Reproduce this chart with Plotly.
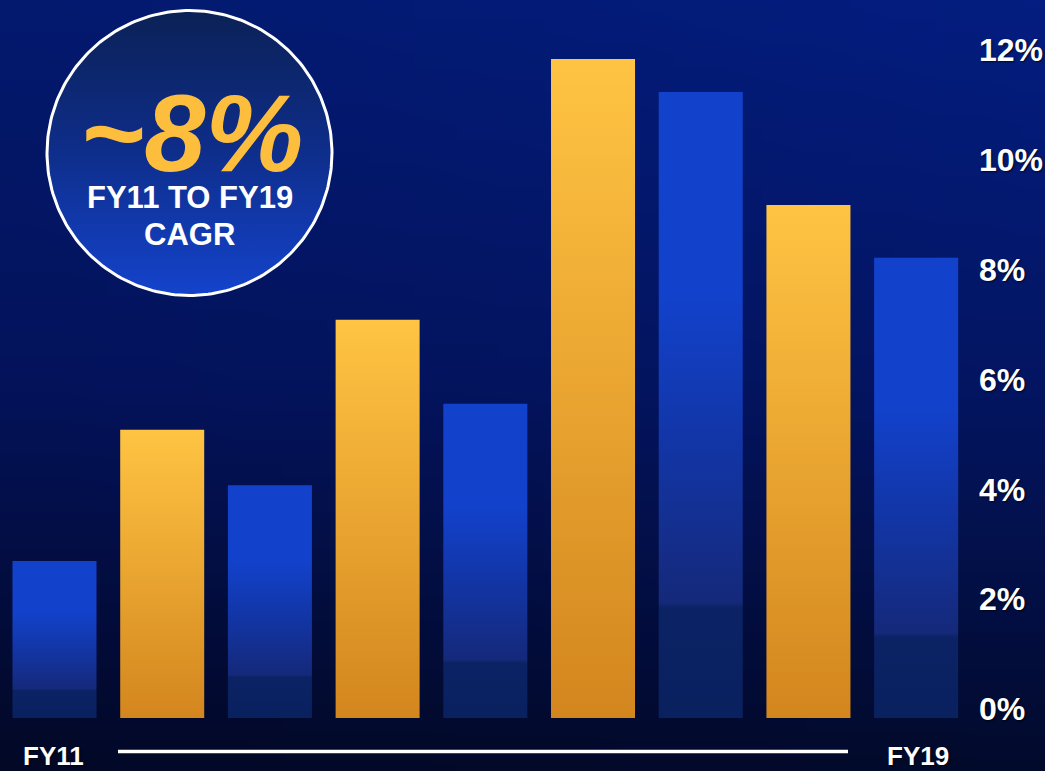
import base64
import math
import struct
import zlib

import plotly.graph_objects as go

# ---- data -------------------------------------------------------------
years = ["FY11", "FY12", "FY13", "FY14", "FY15", "FY16", "FY17", "FY18", "FY19"]
growth_pct = [2.86, 5.25, 4.24, 7.25, 5.72, 12.0, 11.4, 9.34, 8.38]
bar_kind = ["blue", "gold", "blue", "gold", "blue", "gold", "blue", "gold", "blue"]
tick_values = [0, 2, 4, 6, 8, 10, 12]
tick_labels = ["0%", "2%", "4%", "6%", "8%", "10%", "12%"]
cagr_text = "~8%"
cagr_caption = ["FY11 TO FY19", "CAGR"]

# ---- page geometry ----------------------------------------------------
W, H = 1045, 771
M_L, M_R, M_T, M_B = 0, 75, 4, 53
PLOT_W = W - M_L - M_R
PLOT_H = H - M_T - M_B
BAR_HALF = 0.39
FONT = "Liberation Sans, Arial, sans-serif"

GRADIENTS = {
    "blue": [[0.0, "#0a2160"], [0.175, "#0b2264"], [0.185, "#15297a"],
             [0.45, "#1236a8"], [0.68, "#1242cc"], [1.0, "#1242cc"]],
    "gold": [[0.0, "#d3861e"], [1.0, "#ffc443"]],
}


def px_to_paper(px, py):
    return (px - M_L) / PLOT_W, (H - M_B - py) / PLOT_H


def png_uri(width, height, color_at):
    raw = bytearray()
    for j in range(height):
        raw.append(0)
        for i in range(width):
            raw.extend(color_at(i / (width - 1), j / (height - 1)))

    def chunk(tag, data):
        return (struct.pack(">I", len(data)) + tag + data
                + struct.pack(">I", zlib.crc32(tag + data) & 0xFFFFFFFF))

    png = (b"\x89PNG\r\n\x1a\n"
           + chunk(b"IHDR", struct.pack(">IIBBBBB", width, height, 8, 2, 0, 0, 0))
           + chunk(b"IDAT", zlib.compress(bytes(raw)))
           + chunk(b"IEND", b""))
    return "data:image/png;base64," + base64.b64encode(png).decode()


def hex_rgb(h):
    h = h.lstrip("#")
    return [int(h[k:k + 2], 16) for k in (0, 2, 4)]


def mix(a, b, t):
    return [round(a[k] + (b[k] - a[k]) * t) for k in range(3)]


TOP_L, TOP_R = hex_rgb("#03196e"), hex_rgb("#031d80")
MID_L, MID_R = hex_rgb("#03125a"), hex_rgb("#031562")
BOT_L, BOT_R = hex_rgb("#020826"), hex_rgb("#020a2c")


def backdrop(u, v):
    if v < 0.5:
        left, right = mix(TOP_L, MID_L, v / 0.5), mix(TOP_R, MID_R, v / 0.5)
    else:
        left, right = mix(MID_L, BOT_L, (v - 0.5) / 0.5), mix(MID_R, BOT_R, (v - 0.5) / 0.5)
    return mix(left, right, u)


fig = go.Figure()

# ---- gradient-filled bars ---------------------------------------------
for i, (yr, val, kind) in enumerate(zip(years, growth_pct, bar_kind)):
    x0, x1 = i - BAR_HALF, i + BAR_HALF
    fig.add_trace(go.Scatter(
        x=[x0, x1, x1, x0, x0], y=[0, 0, val, val, 0],
        mode="lines", line=dict(width=0, color="rgba(0,0,0,0)"),
        fill="toself",
        fillgradient=dict(type="vertical", colorscale=GRADIENTS[kind], start=0, stop=val),
        name=yr, hoverinfo="skip", showlegend=False,
        xaxis="x", yaxis="y",
    ))

# ---- CAGR badge (pixel-space overlay axes) -----------------------------
CX, CY, R = 189.5, 153.0, 142.5
angles = [2 * math.pi * k / 240 for k in range(241)]
circ_x = [CX + R * math.cos(a) for a in angles]
circ_y = [CY + R * math.sin(a) for a in angles]
fig.add_trace(go.Scatter(
    x=circ_x, y=circ_y, mode="lines",
    line=dict(color="white", width=3),
    fill="toself",
    fillgradient=dict(type="vertical",
                      colorscale=[[0.0, "#0b2156"], [0.45, "#0e2c85"], [1.0, "#1443cc"]],
                      start=CY - R, stop=CY + R),
    hoverinfo="skip", showlegend=False, xaxis="x2", yaxis="y2",
))

fig.add_annotation(x=CX + 2, y=132, xref="x2", yref="y2", text=f"<b><i>{cagr_text}</i></b>",
                   showarrow=False, font=dict(family=FONT, size=110, color="#fdbe3e"),
                   height=86, valign="middle",
                   xanchor="center", yanchor="middle")
fig.add_annotation(x=CX, y=197, xref="x2", yref="y2", text=f"<b>{cagr_caption[0]}</b>",
                   showarrow=False, font=dict(family=FONT, size=31, color="white"),
                   xanchor="center", yanchor="middle")
fig.add_annotation(x=CX, y=234, xref="x2", yref="y2", text=f"<b>{cagr_caption[1]}</b>",
                   showarrow=False, font=dict(family=FONT, size=31, color="white"),
                   xanchor="center", yanchor="middle")

# ---- timeline under the bars ------------------------------------------
lx0, ly = px_to_paper(118, 751.5)
lx1, _ = px_to_paper(848, 751.5)
fig.add_shape(type="line", xref="paper", yref="paper", x0=lx0, x1=lx1, y0=ly, y1=ly,
              line=dict(color="white", width=3.5))
for label, px in ((years[0], 53), (years[-1], 918)):
    ax_, ay_ = px_to_paper(px, 756)
    fig.add_annotation(x=ax_, y=ay_, xref="paper", yref="paper", text=f"<b>{label}</b>",
                       showarrow=False, xanchor="center", yanchor="middle",
                       font=dict(family=FONT, size=26, color="white",
                                 shadow="1px 1px 2px rgba(0,0,0,0.7)"))

# ---- background --------------------------------------------------------
bx, by = px_to_paper(0, 0)
fig.add_layout_image(
    source=png_uri(24, 64, backdrop), xref="paper", yref="paper",
    x=bx, y=by, sizex=W / PLOT_W, sizey=H / PLOT_H,
    xanchor="left", yanchor="top", sizing="stretch", layer="below",
)

fig.update_layout(
    width=W, height=H,
    margin=dict(l=M_L, r=M_R, t=M_T, b=M_B, pad=0),
    paper_bgcolor="#020a2c", plot_bgcolor="rgba(0,0,0,0)",
    xaxis=dict(range=[-0.506, 8.5], visible=False, fixedrange=True),
    yaxis=dict(range=[0, 13], side="right", tickvals=tick_values, ticktext=tick_labels,
               showgrid=False, zeroline=False, showline=False, ticks="",
               ticklabelstandoff=8, ticklabelshift=-9,
               tickfont=dict(family=FONT, size=32, color="white", weight="bold",
                             shadow="1px 1px 2px rgba(0,0,0,0.7)")),
    xaxis2=dict(range=[0, PLOT_W], overlaying="x", visible=False),
    yaxis2=dict(range=[M_T + PLOT_H, M_T], overlaying="y", visible=False),
    showlegend=False,
)

fig.write_html("out.html")
